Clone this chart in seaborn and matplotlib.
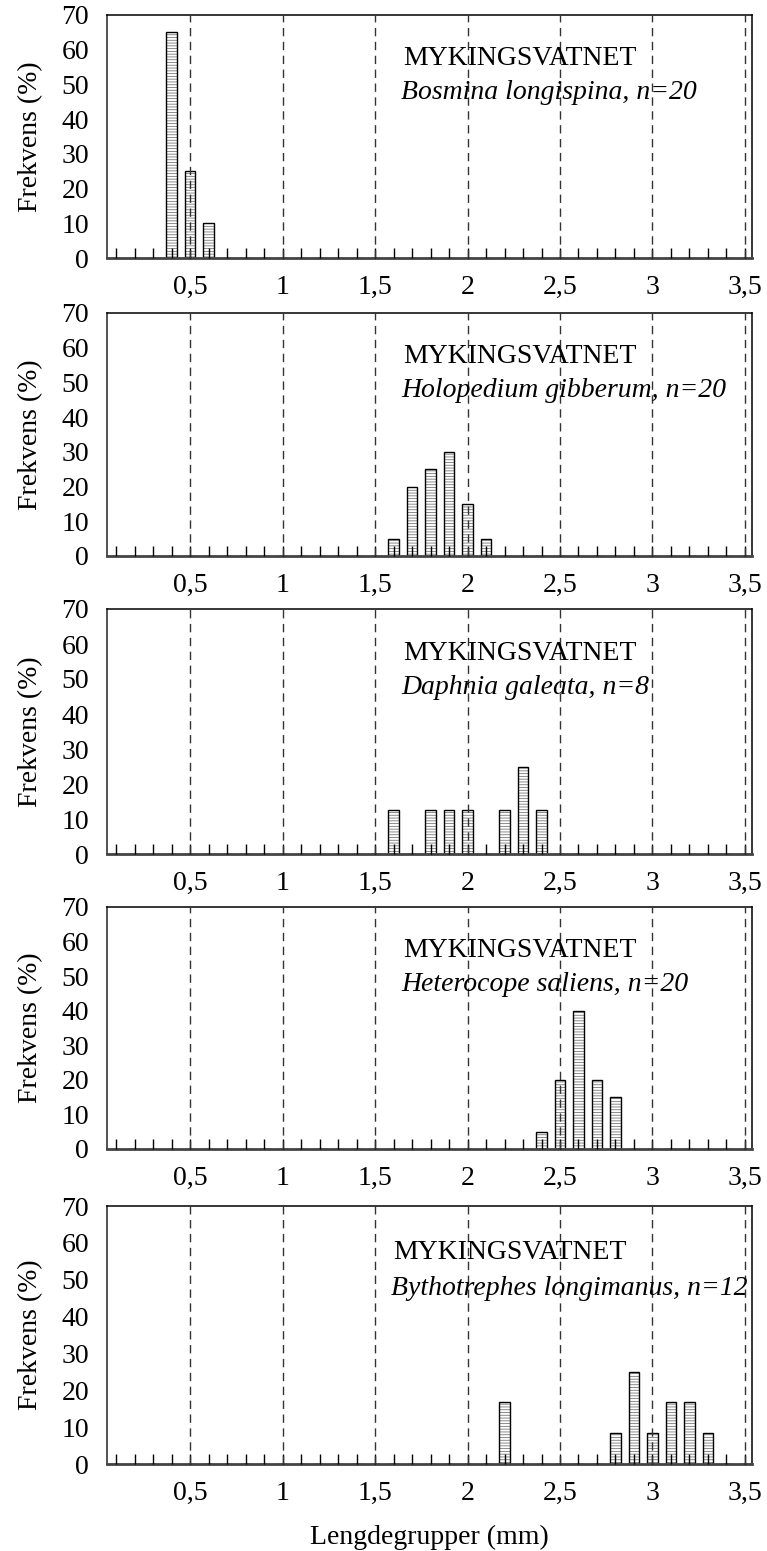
import numpy as np
import pandas as pd
import matplotlib
matplotlib.use("Agg")
import matplotlib.pyplot as plt
import seaborn as sns

# length classes 0,1 ... 3,5 mm
categories = ["0,1", "0,2", "0,3", "0,4", "0,5", "0,6", "0,7", "0,8", "0,9", "1",
              "1,1", "1,2", "1,3", "1,4", "1,5", "1,6", "1,7", "1,8", "1,9", "2",
              "2,1", "2,2", "2,3", "2,4", "2,5", "2,6", "2,7", "2,8", "2,9", "3",
              "3,1", "3,2", "3,3", "3,4", "3,5"]
tick_labels = ["0,5", "1", "1,5", "2", "2,5", "3", "3,5"]

lake = "MYKINGSVATNET"
species = ["Bosmina longispina, n=20",
           "Holopedium gibberum, n=20",
           "Daphnia galeata, n=8",
           "Heterocope saliens, n=20",
           "Bythotrephes longimanus, n=12"]

bosmina_len = ["0,4", "0,5", "0,6"]
bosmina_pct = [65, 25, 10]
holopedium_len = ["1,6", "1,7", "1,8", "1,9", "2", "2,1"]
holopedium_pct = [5, 20, 25, 30, 15, 5]
daphnia_len = ["1,6", "1,8", "1,9", "2", "2,2", "2,3", "2,4"]
daphnia_pct = [12.5, 12.5, 12.5, 12.5, 12.5, 25, 12.5]
heterocope_len = ["2,4", "2,5", "2,6", "2,7", "2,8"]
heterocope_pct = [5, 20, 40, 20, 15]
bythotrephes_len = ["2,2", "2,8", "2,9", "3", "3,1", "3,2", "3,3"]
bythotrephes_pct = [16.7, 8.3, 25, 8.3, 16.7, 16.7, 8.3]

panels = [(bosmina_len, bosmina_pct), (holopedium_len, holopedium_pct),
          (daphnia_len, daphnia_pct), (heterocope_len, heterocope_pct),
          (bythotrephes_len, bythotrephes_pct)]

sns.set_style("white")
plt.rcParams["font.family"] = ["Liberation Serif", "DejaVu Serif"]
plt.rcParams["hatch.linewidth"] = 0.6
plt.rcParams["text.color"] = "black"
plt.rcParams["xtick.color"] = "black"
plt.rcParams["ytick.color"] = "black"
plt.rcParams["axes.labelcolor"] = "black"

FS = 20
W, H = 767, 1551
fig = plt.figure(figsize=(W / 100, H / 100), dpi=100)

# axes boxes in pixels: (top, bottom)
boxes = [(15, 258), (313, 556), (609, 854), (907, 1149), (1206, 1464)]
left_px, right_px = 107, 752
text_x = [0.459, 0.459, 0.459, 0.459, 0.443]

for i, ((lens, pct), (top, bot)) in enumerate(zip(panels, boxes)):
    ax = fig.add_axes([left_px / W, 1 - bot / H, (right_px - left_px) / W, (bot - top) / H])
    df = pd.DataFrame({"Lengde": categories, "Frekvens": 0.0})
    df = df.set_index("Lengde")
    df.loc[lens, "Frekvens"] = pct
    df = df.reset_index()

    sns.barplot(data=df, x="Lengde", y="Frekvens", order=categories, ax=ax,
                color="white", edgecolor="#777777", linewidth=0, hatch="------",
                width=0.55, saturation=1, errorbar=None)
    sns.barplot(data=df, x="Lengde", y="Frekvens", order=categories, ax=ax,
                color="black", fill=False, linewidth=1.0, width=0.55, errorbar=None)

    for k in range(4, len(categories), 5):
        ax.axvline(k, color="#333333", lw=1, dashes=(6, 4), zorder=3)

    ax.set_xlim(-0.49, 34.38)
    ax.set_ylim(0, 70)
    ax.set_yticks(range(0, 71, 10))
    ax.set_yticklabels([str(v) for v in range(0, 71, 10)], fontsize=FS)
    ax.set_xticks(range(len(categories)))
    ax.set_xticklabels([c if c in tick_labels else "" for c in categories], fontsize=FS)
    ax.tick_params(axis="x", direction="in", length=7, width=1,
                   pad=12, bottom=True)
    ax.tick_params(axis="y", length=0, pad=13)
    ax.set_axisbelow(False)
    ax.set_xlabel("")
    ax.set_ylabel("Frekvens (%)", fontsize=FS, labelpad=13)

    for side in ["top", "right"]:
        ax.spines[side].set_color("black")
        ax.spines[side].set_linewidth(1.1)
    ax.spines["left"].set_color("#444444")
    ax.spines["left"].set_linewidth(1.3)
    ax.spines["bottom"].set_color("#444444")
    ax.spines["bottom"].set_linewidth(2)

    ax.text(text_x[i], 0.82, lake, transform=ax.transAxes, fontsize=FS,
            ha="left", va="center")
    ax.text(text_x[i] - 0.003, 0.68, species[i], transform=ax.transAxes,
            fontsize=FS, style="italic", ha="left", va="center")

fig.text((left_px + right_px) / 2 / W, 1 - 1537 / H, "Lengdegrupper (mm)",
         fontsize=FS, ha="center", va="center")

fig.savefig("out.png", dpi=100)
